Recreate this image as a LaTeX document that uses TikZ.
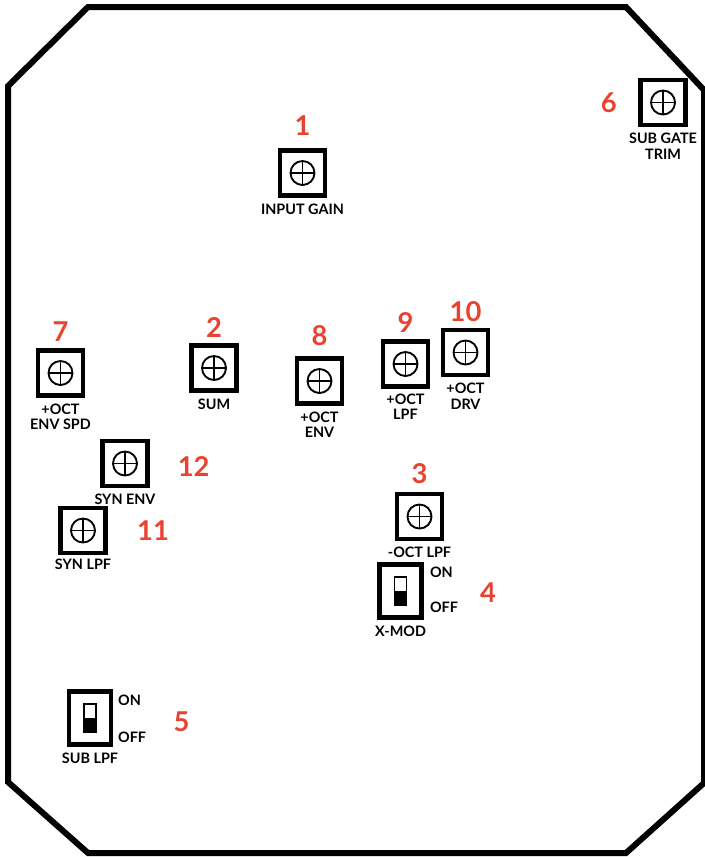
\documentclass[tikz,border=0pt]{standalone}
\usepackage{fontspec}
\setmainfont{Lato}
\usepackage{xcolor}
\usetikzlibrary{positioning}
\definecolor{numred}{HTML}{E94330}

\begin{document}
\begin{tikzpicture}[
    x=0.75pt, y=-0.75pt,
    node distance=4.5pt,
    pot/.style={rectangle, draw, line width=3.4pt, minimum size=33.5pt, inner sep=0pt,
        path picture={
            \draw[line width=1.4pt] (path picture bounding box.center) circle[radius=9pt];
            \draw[line width=1.4pt] ([xshift=-9pt]path picture bounding box.center) -- ([xshift=9pt]path picture bounding box.center);
            \draw[line width=1.4pt] ([yshift=-9pt]path picture bounding box.center) -- ([yshift=9pt]path picture bounding box.center);
        }},
    toggle/.style={rectangle, draw, line width=3.4pt, minimum width=31.5pt, minimum height=40pt, inner sep=0pt,
        path picture={
            \fill ([xshift=-4.5pt]path picture bounding box.center) rectangle ([xshift=4.5pt,yshift=-10.5pt]path picture bounding box.center);
            \draw[line width=1.3pt] ([xshift=-4.5pt,yshift=-10.5pt]path picture bounding box.center) rectangle ([xshift=4.5pt,yshift=10.5pt]path picture bounding box.center);
        }},
    potlabel/.style={inner sep=0pt, font=\bfseries\fontsize{10.8}{11.5}\selectfont, align=center},
    numlabel/.style={inner sep=0pt, text=numred, font=\bfseries\fontsize{20.5}{20.5}\selectfont},
]
\useasboundingbox (0,0) rectangle (704,857);

% panel outline
\draw[line width=4.5pt] (8,86) -- (88,7) -- (626,7) -- (704,90) -- (704,783) -- (626,853) -- (88,853) -- (8,782) -- cycle;

% trimmers
\node[pot] (gain) at (302.5,173) {};
\node[numlabel, above=9.5pt of gain] (ngain) {1};
\node[potlabel, below=of gain] (lgain) {INPUT GAIN};

\node[pot] (trim) at (663,102.5) {};
\node[numlabel, left=16pt of trim] (ntrim) {6};
\node[potlabel, below=of trim] (ltrim) {SUB GATE\\TRIM};

\node[pot] (envspd) at (60.5,373) {};
\node[numlabel, above=5pt of envspd] (nenvspd) {7};
\node[potlabel, below=of envspd] (lenvspd) {+OCT\\ENV SPD};

\node[pot] (sum) at (214,368) {};
\node[numlabel, above=4.5pt of sum] (nsum) {2};
\node[potlabel, below=of sum] (lsum) {SUM};

\node[pot] (octenv) at (319.5,381) {};
\node[numlabel, above=7.5pt of octenv] (noctenv) {8};
\node[potlabel, below=of octenv] (loctenv) {+OCT\\ENV};

\node[pot] (octlpf) at (405.5,364) {};
\node[numlabel, above=5pt of octlpf] (noctlpf) {9};
\node[potlabel, below=3.5pt of octlpf] (loctlpf) {+OCT\\LPF};

\node[pot] (octdrv) at (465.5,352.5) {};
\node[numlabel, above=4.5pt of octdrv] (noctdrv) {10};
\node[potlabel, below=of octdrv] (loctdrv) {+OCT\\DRV};

\node[pot] (synenv) at (125,463.5) {};
\node[numlabel, right=21pt of synenv, yshift=-2.5pt] (nsynenv) {12};
\node[potlabel, below=of synenv] (lsynenv) {SYN ENV};

\node[pot] (synlpf) at (83,530.5) {};
\node[numlabel, right=22pt of synlpf] (nsynlpf) {11};
\node[potlabel, below=3pt of synlpf] (lsynlpf) {SYN LPF};

\node[pot] (suboct) at (419.5,516.5) {};
\node[numlabel, above=6pt of suboct] (nsuboct) {3};
\node[potlabel, below=of suboct] (lsuboct) {-OCT LPF};

% switches
\node[toggle] (xmod) at (400.5,591) {};
\node[potlabel, right=4.5pt of xmod.east, yshift=14pt] (xmodon) {ON};
\node[potlabel, right=4.5pt of xmod.east, yshift=-12pt] (xmodoff) {OFF};
\node[numlabel, right=42pt of xmod, yshift=-1.5pt] (nxmod) {4};
\node[potlabel, below=of xmod] (lxmod) {X-MOD};

\node[toggle] (sublpf) at (90,718) {};
\node[potlabel, right=3.5pt of sublpf.east, yshift=13pt] (sublpfon) {ON};
\node[potlabel, right=3.5pt of sublpf.east, yshift=-14.5pt] (sublpfoff) {OFF};
\node[numlabel, right=45pt of sublpf, yshift=-3pt] (nsublpf) {5};
\node[potlabel, below=of sublpf] (lsublpf) {SUB LPF};

\end{tikzpicture}
\end{document}
